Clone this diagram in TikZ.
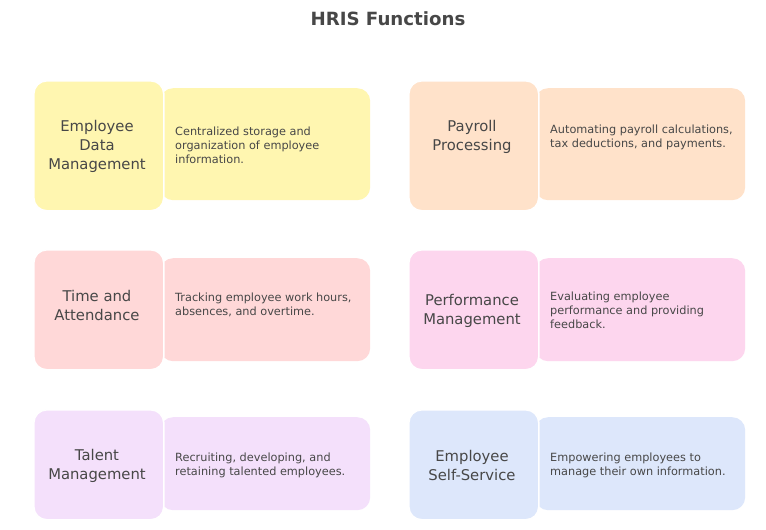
\documentclass[tikz,border=0pt]{standalone}
\usepackage{fontspec}
\setmainfont{DejaVu Sans}
\definecolor{cyel}{HTML}{FFF6B0}
\definecolor{cpeach}{HTML}{FFE2CA}
\definecolor{cred}{HTML}{FFD8D8}
\definecolor{cpink}{HTML}{FDD6EE}
\definecolor{clav}{HTML}{F4E0FB}
\definecolor{cblue}{HTML}{DDE7FB}
\definecolor{ink}{HTML}{474747}
\begin{document}
\begin{tikzpicture}[x=1pt,y=-1pt,
  descbox/.style={fill=#1, draw=none, rounded corners=13pt, anchor=north west, inner sep=0pt},
  headbox/.style={fill=#1, draw=white, line width=1.6pt, rounded corners=13pt, anchor=north west, inner sep=0pt, minimum width=130pt},
  headtext/.style={text=ink, inner sep=0pt, align=center, font=\fontsize{14.8}{19}\selectfont},
  desctext/.style={text=ink, inner sep=0pt, align=left, anchor=west, font=\fontsize{11.3}{14}\selectfont},
  titletext/.style={text=ink, inner sep=0pt, font=\fontsize{18.2}{20}\selectfont\bfseries}]
\useasboundingbox (0,0) rectangle (766,530);
\fill[white] (0,0) rectangle (766,530);
\node[titletext] (title) at (388,19) {HRIS Functions};
% row 1
\node[descbox=cyel, minimum width=210pt, minimum height=112pt] (d1) at (160,88) {};
\node[headbox=cyel, minimum height=130pt] (h1) at (33,80) {};
\node[headtext] (t1) at (97,146) {Employee\\Data\\Management};
\node[desctext] (x1) at (175,145) {Centralized storage and\\organization of employee\\information.};
\node[descbox=cpeach, minimum width=210pt, minimum height=112pt] (d2) at (535,88) {};
\node[headbox=cpeach, minimum height=130pt] (h2) at (408,80) {};
\node[headtext] (t2) at (472,137) {Payroll\\Processing};
\node[desctext] (x2) at (550,137) {Automating payroll calculations,\\tax deductions, and payments.};
% row 2
\node[descbox=cred, minimum width=210pt, minimum height=103pt] (d3) at (160,258) {};
\node[headbox=cred, minimum height=120pt] (h3) at (33,249) {};
\node[headtext] (t3) at (97,305.5) {Time and\\Attendance};
\node[desctext] (x3) at (175,305) {Tracking employee work hours,\\absences, and overtime.};
\node[descbox=cpink, minimum width=210pt, minimum height=103pt] (d4) at (535,258) {};
\node[headbox=cpink, minimum height=120pt] (h4) at (408,249) {};
\node[headtext] (t4) at (472,310.5) {Performance\\Management};
\node[desctext] (x4) at (550,310) {Evaluating employee\\performance and providing\\feedback.};
% row 3
\node[descbox=clav, minimum width=210pt, minimum height=93pt] (d5) at (160,417) {};
\node[headbox=clav, minimum height=110pt] (h5) at (33,409) {};
\node[headtext] (t5) at (97,465.5) {Talent\\Management};
\node[desctext] (x5) at (175,465) {Recruiting, developing, and\\retaining talented employees.};
\node[descbox=cblue, minimum width=210pt, minimum height=93pt] (d6) at (535,417) {};
\node[headbox=cblue, minimum height=110pt] (h6) at (408,409) {};
\node[headtext] (t6) at (472,465) {Employee\\Self-Service};
\node[desctext] (x6) at (550,465) {Empowering employees to\\manage their own information.};
\end{tikzpicture}
\end{document}
